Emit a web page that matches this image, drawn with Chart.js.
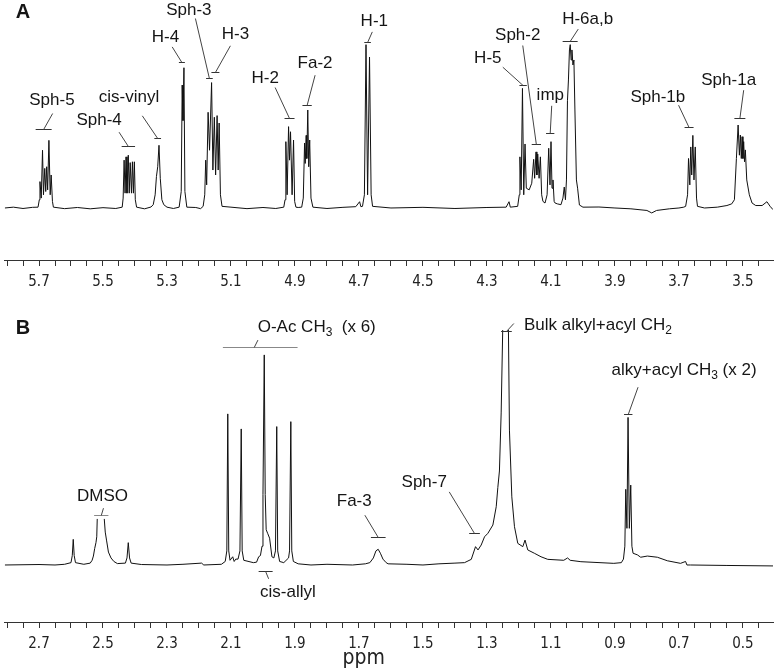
<!DOCTYPE html>
<html>
<head>
<meta charset="utf-8">
<script src="https://cdn.jsdelivr.net/npm/chart.js@4/dist/chart.umd.min.js"></script>
<style>
html, body { margin: 0; padding: 0; background: #fff; }
#wrap { position: relative; width: 774px; height: 669px; }
canvas { position: absolute; left: 0; }
#chartA { top: 0; }
#chartB { top: 290px; }
</style>
</head>
<body>
<div id="wrap">
<canvas id="chartA" width="774" height="290"></canvas>
<canvas id="chartB" width="774" height="379"></canvas>
</div>
<script>
// panel A, 3.4 - 5.8 ppm (intensity: H-1 = 100)
const ppmA = [5.807, 5.78, 5.75, 5.72,
    5.703, 5.699, 5.697, 5.693, 5.689, 5.686, 5.682, 5.679, 5.676, 5.673, 5.669, 5.665, 5.662, 5.658, 5.655,
    5.62, 5.58, 5.54, 5.50, 5.46,
    5.44, 5.437, 5.434, 5.431, 5.428, 5.425, 5.421, 5.418, 5.415, 5.411, 5.408, 5.405, 5.402, 5.399, 5.395,
    5.37, 5.35,
    5.343, 5.337, 5.333, 5.329, 5.325, 5.321, 5.316, 5.31, 5.30, 5.28,
    5.262, 5.2555, 5.2525, 5.25, 5.247, 5.244, 5.238, 5.21, 5.195,
    5.187, 5.182, 5.179, 5.176, 5.1715, 5.167, 5.1606, 5.1565, 5.152, 5.148, 5.1434, 5.14, 5.137, 5.133, 5.128,
    5.10, 5.05, 5.00, 4.96,
    4.935, 4.931, 4.9285, 4.9245, 4.92, 4.917, 4.9139, 4.909, 4.9045, 4.901, 4.897, 4.89,
    4.879, 4.874, 4.87, 4.868, 4.865, 4.863, 4.86, 4.857, 4.854, 4.85, 4.844,
    4.80, 4.75, 4.71, 4.698, 4.694,
    4.689, 4.683, 4.678, 4.673, 4.667, 4.662, 4.6575,
    4.60, 4.50, 4.40, 4.30, 4.24, 4.231, 4.227,
    4.204, 4.199, 4.197, 4.193, 4.189, 4.185, 4.181, 4.177,
    4.168, 4.16, 4.154, 4.151, 4.1466, 4.144, 4.1413, 4.137, 4.133, 4.129, 4.125,
    4.1185, 4.112, 4.107, 4.103, 4.0998, 4.0967, 4.0936, 4.09, 4.087, 4.08,
    4.0687, 4.0625, 4.0584, 4.0547, 4.0515, 4.0484, 4.0453, 4.0422, 4.0397, 4.0369, 4.0344, 4.0313, 4.0282, 4.0251, 4.0204, 4.0167, 4.011,
    4.00, 3.95, 3.90, 3.85, 3.80, 3.785, 3.77, 3.73, 3.70, 3.685,
    3.679, 3.673, 3.67, 3.666, 3.663, 3.66, 3.6565, 3.653, 3.649, 3.645, 3.642,
    3.62, 3.58, 3.55, 3.535,
    3.5266, 3.5204, 3.515, 3.511, 3.508, 3.505, 3.5026, 3.50, 3.4977, 3.495, 3.4924, 3.488, 3.48, 3.4714,
    3.46, 3.44, 3.425, 3.415, 3.406];
const intA = [0, 0.5, -0.3, 0.4,
    0.5, 5, 16, 6, 35, 8, 24, 10, 25, 11, 41, 8, 20, 4, 0.5,
    -0.4, 0.3, -0.5, 0.2, -0.3,
    0.5, 6, 29, 9, 31, 9, 32, 9, 27.5, 9, 28, 9, 28, 5, 0.5,
    -0.5, 0.6,
    2, 8, 19, 25, 38, 18, 5, 2, 0.5, -0.3,
    0.5, 10, 74.5, 53, 85, 10, 0.5, 0.3, -0.4,
    1, 8, 29, 14, 58, 35, 76, 23, 55, 20, 56, 23, 51.5, 8, 1,
    0.5, -0.4, 0.3, -0.3,
    0.5, 5, 40.2, 8, 49.3, 29, 46.2, 8, 41.2, 4, 0.5, 0.3,
    0.5, 6, 39.4, 27, 44, 30, 59.4, 25, 41.2, 6, 0.5,
    -0.3, 0.4, 0.8, 3.8, 0.8,
    1, 8, 99, 8, 91.5, 8, 1,
    0, 0.4, -0.3, 0.3, 0.5, 3.8, 0.5,
    1, 8, 31, 11, 72.5, 8, 38.8, 12,
    11, 15, 29.5, 18, 34, 20, 32.7, 18, 31, 8, 4,
    3, 8, 36.2, 14, 40.2, 12, 17, 4, 3, 2.5,
    2, 6, 12.7, 5, 17, 65, 77.6, 95.8, 99, 89.7, 95.8, 86.7, 89.7, 59.4, 17, 12, 1.8,
    0.5, 0.6, 0, -0.5, -1.5, -3, -1.5, -0.5, 0, 0.5,
    1, 8, 30, 14, 37, 20, 44, 17, 37, 6, 1,
    0, 0.5, 1.5, 2.5,
    5, 30, 50.3, 32, 44.2, 30, 43.2, 30, 40.2, 28, 35.2, 17, 8, 3,
    1.5, 1.5, 3.8, 1, -1];

// panel B, 0.4 - 2.8 ppm (intensity: clipped top = 100)
const ppmB = [2.807, 2.70, 2.65, 2.62,
    2.60, 2.596, 2.593, 2.59, 2.586, 2.56,
    2.54, 2.534, 2.53, 2.526, 2.522, 2.5195, 2.518, 2.507, 2.496, 2.493, 2.489, 2.483, 2.475, 2.466, 2.455,
    2.43, 2.425, 2.421, 2.417, 2.412, 2.38, 2.30, 2.25, 2.192, 2.185, 2.13,
    2.118, 2.113, 2.11, 2.107, 2.103, 2.0946, 2.09, 2.085, 2.078,
    2.072, 2.068, 2.065, 2.06, 2.03, 2.02, 2.0135, 2.008,
    2.003, 2.00, 1.996, 1.993, 1.99, 1.9855, 1.9793, 1.972, 1.966,
    1.961, 1.957, 1.954, 1.948, 1.935,
    1.92, 1.917, 1.913, 1.91, 1.905, 1.89, 1.85, 1.80, 1.72, 1.68,
    1.666, 1.655, 1.647, 1.64, 1.633, 1.625, 1.615, 1.609,
    1.55, 1.50, 1.45, 1.40, 1.37,
    1.349, 1.3357, 1.328, 1.318, 1.3076, 1.297, 1.2815, 1.271, 1.266, 1.261, 1.2556, 1.2505,
    1.2416, 1.233, 1.2297, 1.2223, 1.214, 1.2036, 1.188, 1.181, 1.1724, 1.1519, 1.131, 1.11,
    1.06, 1.048, 1.04, 1.0064, 0.9036, 0.88,
    0.8734, 0.869, 0.8662, 0.8625, 0.859, 0.855, 0.8506, 0.847, 0.8434,
    0.8297, 0.8195, 0.7986, 0.7674, 0.7363, 0.6949, 0.6793, 0.675, 0.6637, 0.55, 0.405];
const intB = [0, 0.2, 0, 0.3,
    1, 4, 10.9, 4, 1, 0.3,
    0.8, 2, 3.8, 7, 9.5, 12, 19.6, null, 19.6, 14, 10.6, 5.5, 3, 1.5, 0.6,
    0.8, 3, 9.5, 3, 0.8, 0.2, 0, 0.3, 0.8, 0, 0.3,
    1.5, 6, 64.3, 6, 2, 3.5, 1.5, 2.5, 2.5,
    6, 57.9, 6, 2, 1, 1.2, 3.5, 4,
    8, 30, 89.4, 30, 15, 13.5, 11.4, 3.5, 3,
    6, 58.9, 6, 1.5, 1,
    3, 6, 61, 6, 1.5, 0.5, 0, 0.3, 0, 0.5,
    1, 3, 6, 6.7, 5, 2.5, 1, 0.5,
    0.3, 0, 0.5, 0.8, 1,
    2.4, 7.8, 6.4, 8.5, 12, 13.5, 17, 24.8, 33, 40, 64.7, 102,
    180, 102, 57.4, 29, 16.3, 9.2, 7.8, 10.6, 6.4, 5, 3.5, 2.4,
    2, 3, 2, 1.4, 0.7, 1,
    2.5, 8, 32.2, 15.6, 62.8, 15.6, 34, 8, 5,
    4.3, 3.3, 3.8, 3.3, 1.8, 0.7, 1.5, 0, 0, -0.2, -0.4];

// labelled ticks
const tickLabelsA = [5.7, 5.5, 5.3, 5.1, 4.9, 4.7, 4.5, 4.3, 4.1, 3.9, 3.7, 3.5];
const tickLabelsB = [2.7, 2.5, 2.3, 2.1, 1.9, 1.7, 1.5, 1.3, 1.1, 0.9, 0.7, 0.5];

// peak labels: bar at (ppm, at), leader end and text centre as pixel offsets from the bar
const notesA = [
    { text: 'Sph-5', ppm: 5.6855, at: 47.7, w: 16, lx: 9, ly: -16, tx: 8.3, ty: -29.3 },
    { text: 'Sph-4', ppm: 5.4207, at: 37.6, w: 13.4, lx: -9.3, ly: -14.3, tx: -29.3, ty: -26 },
    { text: 'cis-vinyl', ppm: 5.329, at: 42.6, w: 6.7, lx: -15.4, ly: -22.7, tx: -28.7, ty: -41 },
    { text: 'H-4', ppm: 5.2534, at: 88.3, w: 6, lx: -9.7, ly: -15.6, tx: -16.4, ty: -25.6 },
    { text: 'Sph-3', ppm: 5.1674, at: 78.6, w: 6.7, lx: -14, ly: -60, tx: -20.6, ty: -68.3 },
    { text: 'H-3', ppm: 5.1487, at: 82.6, w: 8, lx: 15, ly: -26.7, tx: 20, ty: -38.4 },
    { text: 'H-2', ppm: 4.917, at: 54.4, w: 10, lx: -14.4, ly: -31, tx: -24.4, ty: -40 },
    { text: 'Fa-2', ppm: 4.8621, at: 62.2, w: 9.3, lx: 8, ly: -30.3, tx: 8, ty: -42 },
    { text: 'H-1', ppm: 4.673, at: 100.4, w: 6.6, lx: 4.7, ly: -10.6, tx: 6.7, ty: -21.6 },
    { text: 'H-5', ppm: 4.187, at: 74.5, w: 7.4, lx: -20.3, ly: -18.3, tx: -35.3, ty: -26.7 },
    { text: 'Sph-2', ppm: 4.1456, at: 38.8, w: 9.3, lx: -13.6, ly: -99, tx: -18.6, ty: -109 },
    { text: 'imp', ppm: 4.1023, at: 45.6, w: 8.3, lx: 1.5, ly: -27.7, tx: 0.1, ty: -37.7 },
    { text: 'H-6a,b', ppm: 4.04, at: 101.4, w: 15, lx: 8.1, ly: -12.4, tx: 17.5, ty: -22.4 },
    { text: 'Sph-1b', ppm: 3.6683, at: 48.9, w: 9, lx: -10.5, ly: -22.3, tx: -31.2, ty: -30.6 },
    { text: 'Sph-1a', ppm: 3.5095, at: 54.4, w: 11, lx: 3.8, ly: -28.3, tx: -11.2, ty: -38.3 }
];
const notesB = [
    { text: 'DMSO', ppm: 2.5054, at: 21.3, w: 14.3, lx: 2.2, ly: -7.3, tx: 1.2, ty: -19, color: '#888' },
    { text: 'O-Ac CH_3  (x 6)', ppm: 2.0086, at: 92.9, w: 74.7, ls: -6, lx: -2.3, ly: -7.4, tx: 56.5, ty: -20, color: '#888' },
    { text: 'cis-allyl', ppm: 1.9917, at: -2.55, w: 14, lx: 3, ly: 7.3, tx: 22.3, ty: 20.7 },
    { text: 'Fa-3', ppm: 1.6397, at: 11.8, w: 14.7, lx: -13.4, ly: -22.3, tx: -24, ty: -36.6 },
    { text: 'Sph-7', ppm: 1.3388, at: 13.5, w: 10.7, lx: -25.3, ly: -41.6, tx: -50.3, ty: -51.6 },
    { text: 'Bulk alkyl+acyl CH_2', ppm: 1.2391, at: 99.7, w: 10.7, lx: 7.4, ly: -8, tx: 91.5, ty: -5.7 },
    { text: 'alky+acyl CH_3 (x 2)', ppm: 0.8584, at: 64.3, w: 8.4, lx: 9.8, ly: -27.3, tx: 55.8, ty: -44 }
];

const labelFont = "17px 'Liberation Sans', Arial, sans-serif";
const subFont = "12px 'Liberation Sans', Arial, sans-serif";
const tickFamily = "'Liberation Sans Narrow', 'DejaVu Sans Condensed', 'Roboto Condensed', sans-serif";

// text with "_n" meaning subscript n
function drawRich(ctx, text, cx, cy) {
    const parts = [];
    text.split(/(_\d)/).forEach(p => {
        if (!p) return;
        if (p[0] === '_') parts.push({ t: p.slice(1), sub: true });
        else parts.push({ t: p, sub: false });
    });
    let total = 0;
    parts.forEach(p => {
        ctx.font = p.sub ? subFont : labelFont;
        p.w = ctx.measureText(p.t).width;
        total += p.w;
    });
    let x = cx - total / 2;
    ctx.textAlign = 'left';
    ctx.textBaseline = 'middle';
    parts.forEach(p => {
        ctx.font = p.sub ? subFont : labelFont;
        ctx.fillText(p.t, x, p.sub ? cy + 5 : cy);
        x += p.w;
    });
}

function notesPlugin(notes, letter, letterY, withUnit) {
    return {
        id: 'peakNotes',
        afterDraw(chart) {
            const ctx = chart.ctx;
            const xs = chart.scales.x, ys = chart.scales.y;
            ctx.save();
            ctx.fillStyle = '#151515';
            notes.forEach(n => {
                const cx = xs.getPixelForValue(n.ppm);
                const cy = Math.round(ys.getPixelForValue(n.at)) + 0.5;
                ctx.lineWidth = 1;
                ctx.strokeStyle = n.color || '#333';
                ctx.beginPath();
                ctx.moveTo(cx - n.w / 2, cy);
                ctx.lineTo(cx + n.w / 2, cy);
                ctx.stroke();
                ctx.strokeStyle = '#444';
                ctx.beginPath();
                ctx.moveTo(cx + (n.ls || 0), cy);
                ctx.lineTo(cx + n.lx, cy + n.ly);
                ctx.stroke();
                drawRich(ctx, n.text, cx + n.tx, cy + n.ty);
            });
            ctx.font = "bold 20px 'Liberation Sans', Arial, sans-serif";
            ctx.textAlign = 'center';
            ctx.textBaseline = 'middle';
            ctx.fillText(letter, 23, letterY);
            if (withUnit) {
                ctx.font = '21px ' + tickFamily;
                ctx.fillStyle = '#222';
                ctx.fillText('ppm', xs.getPixelForValue(1.685), chart.height - 10);
            }
            ctx.restore();
        }
    };
}

function makeChart(id, ppm, inten, range, yRange, tickLabels, padTop, axisH, plugin) {
    const points = ppm.map((p, i) => ({ x: p, y: inten[i] }));
    return new Chart(document.getElementById(id), {
        type: 'line',
        data: {
            datasets: [{
                data: points,
                borderColor: '#111',
                borderWidth: 1,
                pointRadius: 0,
                tension: 0,
                spanGaps: false
            }]
        },
        options: {
            responsive: false,
            animation: false,
            layout: { padding: { left: 2, right: 1, top: padTop, bottom: 0 } },
            plugins: { legend: { display: false }, tooltip: { enabled: false } },
            scales: {
                x: {
                    type: 'linear',
                    reverse: true,
                    min: range[0],
                    max: range[1],
                    afterFit: s => { s.height = axisH; },
                    border: { display: true, color: '#333', width: 1 },
                    grid: { display: true, drawOnChartArea: false, drawTicks: true, tickLength: 6, color: '#333' },
                    ticks: {
                        stepSize: 0.05,
                        includeBounds: false,
                        autoSkip: false,
                        maxRotation: 0,
                        maxTicksLimit: 200,
                        padding: 7,
                        color: '#222',
                        font: { family: tickFamily, size: 15 },
                        callback: v => {
                            const hit = tickLabels.find(t => Math.abs(t - v) < 0.001);
                            return hit === undefined ? '' : hit.toFixed(1);
                        }
                    }
                },
                y: { display: false, min: yRange[0], max: yRange[1] }
            }
        },
        plugins: [plugin]
    });
}

makeChart('chartA', ppmA, intA, [3.406, 5.807], [-31.52, 126.06], tickLabelsA, 0, 30,
    notesPlugin(notesA, 'A', 12, false));
makeChart('chartB', ppmB, intB, [0.406, 2.807], [-24.26, 100], tickLabelsB, 40, 47,
    notesPlugin(notesB, 'B', 38, true));
</script>
</body>
</html>
